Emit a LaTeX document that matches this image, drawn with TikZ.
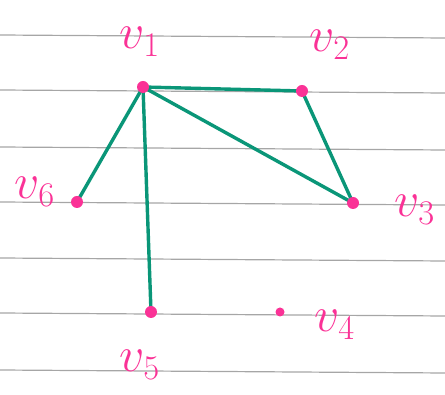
\documentclass[tikz,border=0pt]{standalone}
\usepackage{amsmath, amssymb}
\usepackage{xcolor}
\usetikzlibrary{backgrounds}
\definecolor{pinkink}{RGB}{250,50,150}
\definecolor{greenink}{RGB}{10,150,120}

\begin{document}
\begin{tikzpicture}[x=0.5pt, y=-0.5pt,
  vx/.style={circle, fill=pinkink, inner sep=0pt, minimum size=6pt},
  lb/.style={text=pinkink, font=\fontsize{26}{28}\selectfont},
  ed/.style={greenink, line width=1.7pt, line cap=round},
  rule/.style={gray!70, line width=0.6pt}]
\useasboundingbox (0,0) rectangle (445,395);
\node[vx] (v1) at (143,87) {};
\node[vx] (v2) at (302,91) {};
\node[vx] (v3) at (353,203) {};
\node[vx, minimum size=4.5pt] (v4) at (280,312) {};
\node[vx] (v5) at (151,312) {};
\node[vx] (v6) at (77,202) {};
\node[lb] (l1) at (140,42) {$v_1$};
\node[lb] (l2) at (330,45) {$v_2$};
\node[lb] (l3) at (415,210) {$v_3$};
\node[lb] (l4) at (335,325) {$v_4$};
\node[lb] (l5) at (140,365) {$v_5$};
\node[lb] (l6) at (35,192) {$v_6$};
\begin{scope}[on background layer]
% ruled paper
\foreach \yy in {35,90,147,202,258,313,370}
  \draw[rule] (0,\yy) -- (445,\yy+3);
\draw[ed] (v1.center)--(v2.center)--(v3.center)--(v1.center);
\draw[ed] (v1.center)--(v6.center);
\draw[ed] (v1.center)--(v5.center);
\end{scope}
\end{tikzpicture}
\end{document}
